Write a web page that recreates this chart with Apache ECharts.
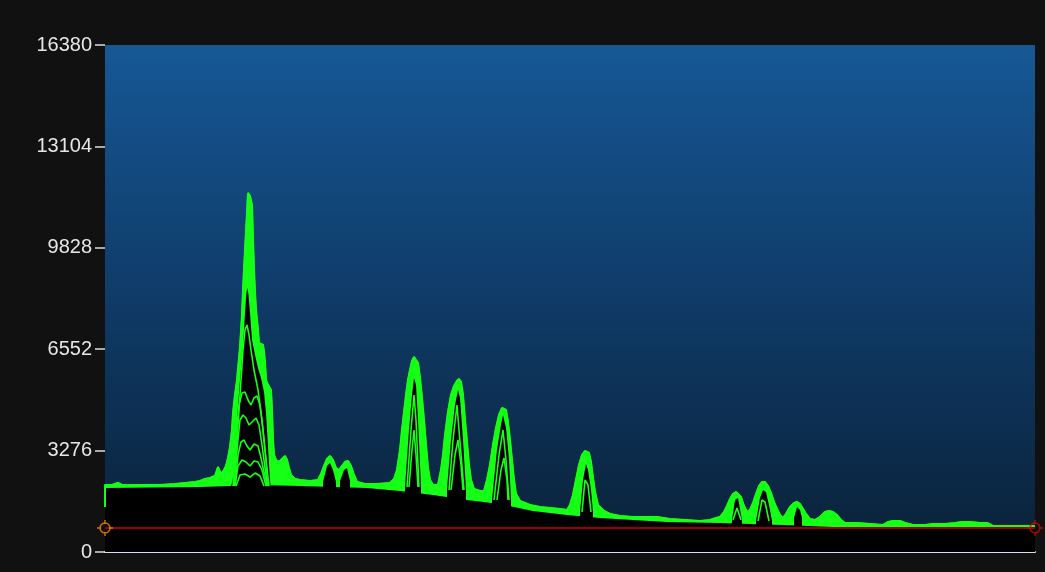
<!DOCTYPE html>
<html>
<head>
<meta charset="utf-8">
<script src="https://cdn.jsdelivr.net/npm/echarts/dist/echarts.min.js"></script>
<style>
html,body{margin:0;padding:0;background:#111111;}
#chart{width:1045px;height:572px;}
</style>
</head>
<body>
<div id="chart"></div>
<script>
// Y axis tick labels
const yTicks = [0, 3276, 6552, 9828, 13104, 16380];
// Red threshold line level
const thresholdLevel = 775;
const xRange = [0, 930];

// Outer envelope of the overlaid spectra [channel, counts]
const envelope = [
[0,1454],[0,2165],[7,2165],[13,2229],[17,2165],[35,2165],[55,2165],[70,2197],[80,2229],[90,2262],
[95,2294],[100,2359],[105,2391],[110,2456],[113,2746],[116,2520],[119,2649],[121,2779],[123,3037],[125,3393],
[127,3942],[128,4491],[130,5073],[132,5557],[135,6624],[137,7657],[138,8465],[140,9758],[142,10953],[143,11599],
[144,11599],[145,11502],[147,11212],[148,10081],[149,9111],[150,8401],[151,7819],[153,7173],[154,6753],[156,6785],
[158,6688],[159,6462],[160,6139],[161,5557],[163,5396],[165,5363],[166,5234],[167,4588],[168,3619],[169,3134],
[171,2973],[174,2908],[178,3037],[180,3102],[182,2973],[184,2714],[186,2488],[190,2359],[195,2326],[205,2294],
[213,2326],[216,2520],[219,2779],[222,3005],[225,3102],[228,2973],[231,2714],[234,2649],[237,2779],[240,2908],
[243,2940],[246,2779],[249,2488],[252,2262],[260,2197],[272,2197],[285,2229],[289,2359],[292,2649],[295,3296],
[297,3942],[299,4523],[301,5073],[303,5557],[305,5880],[307,6171],[309,6300],[311,6300],[313,6107],[315,5622],
[317,4976],[319,4265],[321,3457],[323,2714],[325,2326],[328,2165],[333,2165],[336,2649],[338,3134],[340,3780],
[343,4523],[346,5073],[349,5363],[352,5525],[354,5590],[356,5493],[358,5073],[360,4265],[362,3554],[364,2811],
[366,2326],[369,2036],[375,1971],[379,1971],[382,2326],[385,2811],[388,3457],[391,4006],[394,4426],[397,4653],
[399,4717],[401,4588],[403,4200],[405,3619],[407,2973],[409,2326],[411,1874],[415,1648],[425,1519],[435,1454],
[445,1422],[455,1389],[462,1357],[465,1519],[468,1842],[471,2326],[474,2811],[477,3134],[480,3263],[482,3296],
[484,3199],[486,2908],[488,2391],[490,1939],[493,1519],[499,1325],[505,1228],[515,1163],[528,1131],[540,1131],
[552,1131],[565,1066],[580,1034],[595,1002],[605,1034],[611,1099],[615,1131],[619,1292],[622,1486],[625,1712],
[628,1874],[631,1939],[633,1939],[636,1777],[639,1486],[642,1292],[645,1357],[648,1583],[651,1874],[654,2132],
[657,2262],[660,2262],[663,2132],[666,1906],[669,1616],[672,1389],[675,1195],[678,1099],[681,1228],[685,1454],
[689,1583],[692,1616],[695,1551],[698,1389],[701,1228],[705,1066],[710,1034],[715,1131],[720,1292],[724,1325],
[728,1292],[732,1195],[736,1034],[740,937],[752,937],[765,905],[778,872],[783,969],[788,1002],[795,1002],
[800,937],[808,872],[820,872],[828,905],[840,905],[850,937],[857,969],[865,969],[875,937],[882,937],
[888,840],[905,840],[930,840]
];

// Lowest spectrum (top of the black fill)
const floorCurve = [
[0,2068],[95,2100],[155,2165],[195,2132],[262,2068],[295,1971],[328,1842],[362,1680],[395,1551],
[428,1325],[462,1195],[495,1099],[528,1034],[562,969],[615,937],[678,872],[728,808],[930,808]
];

// Dark interiors of the peaks
const hollowMain = [[126,2100],[129,2552],[131,3393],[132.5,4491],[135,5557],[138,6624],[140,7722],[141.5,8401],[142.5,8530],[143.5,8304],[145,7722],[147,6850],[150,6365],[153,5945],[156,5622],[159,5170],[161,4491],[163,3393],[164.5,2552],[165.5,2100]];
const hollowP225 = [[218,2262],[222,2779],[225,2876],[228,2649],[231,2262]];
const hollowP242 = [[235,2294],[239,2649],[242,2714],[245,2294]];
const hollowP310 = [[300,2100],[304,3942],[307,5073],[309,5622],[311,5396],[313,4265],[316,2100]];
const hollowP354 = [[342,2036],[346,3619],[350,4750],[353,5234],[355,4976],[358,3619],[361,2003]];
const hollowP399 = [[387,1680],[392,3296],[396,4103],[398,4426],[401,4006],[404,2973],[406,1680]];
const hollowP482 = [[475,1292],[478,2326],[481,2843],[483,2649],[486,2003],[488,1292]];
const hollowP632 = [[627,1034],[630,1680],[633,1745],[637,1034]];
const hollowP659 = [[651,1002],[655,1745],[658,2003],[661,1939],[665,1357],[667,1002]];
const hollowP692 = [[689,1099],[692,1454],[695,1357],[697,1099]];

// Inner spectra (contour lines inside the peaks)
const innerMain0 = [[129,2132],[132,3619],[135,5073],[138,6527],[140,7173],[142,7334],[144,7011],[146,6527],[149,5880],[153,5234],[157,4265],[161,2973],[163,2132]];
const innerMain1 = [[128,2132],[131,3619],[134,4750],[137,5137],[140,5170],[143,4911],[146,4750],[149,4976],[152,5040],[155,4750],[158,3942],[161,2973],[164,2132]];
const innerMain2 = [[129,2132],[132,3296],[135,4265],[138,4426],[141,4330],[144,4103],[147,4200],[151,4330],[154,4103],[157,3457],[160,2714],[163,2132]];
const innerMain3 = [[130,2132],[133,3134],[136,3554],[139,3619],[142,3425],[145,3296],[149,3489],[153,3425],[156,3037],[159,2585],[162,2132]];
const innerMain4 = [[130,2132],[133,2779],[137,2973],[141,2908],[145,2779],[149,2940],[153,2908],[157,2649],[161,2132]];
const innerMain5 = [[131,2132],[135,2488],[140,2520],[145,2423],[150,2552],[155,2456],[159,2132]];
const innerP310a = [[302,2100],[306,3942],[309,5073],[311,4265],[314,2100]];
const innerP310b = [[304,2100],[307,3296],[309,3942],[311,3134],[313,2100]];
const innerP354a = [[344,2003],[348,3619],[352,4750],[354,3942],[359,2003]];
const innerP354b = [[346,2003],[350,3134],[353,3619],[356,2811],[358,2003]];
const innerP399a = [[389,1680],[394,3134],[398,3942],[401,2973],[404,1680]];
const innerP399b = [[392,1680],[396,2649],[399,3037],[402,2326],[403,1680]];
const innerP482 = [[477,1292],[480,2326],[483,2165],[486,1292]];
const innerP632 = [[628,1034],[632,1422],[636,1034]];
const innerP659 = [[653,1002],[657,1680],[660,1616],[664,1002]];

const GREEN = '#16ff16';
const hollows = [hollowMain,hollowP225,hollowP242,hollowP310,hollowP354,hollowP399,hollowP482,hollowP632,hollowP659,hollowP692];
const inners = [innerMain0,innerMain1,innerMain2,innerMain3,innerMain4,innerMain5,innerP310a,innerP310b,innerP354a,innerP354b,innerP399a,innerP399b,innerP482,innerP632,innerP659];

const series = [];
series.push({type:'line', data:envelope, symbol:'none', silent:true,
  lineStyle:{color:GREEN, width:1.5}, areaStyle:{color:GREEN, opacity:1}});
series.push({type:'line', data:floorCurve, symbol:'none', silent:true,
  lineStyle:{width:0, opacity:0}, areaStyle:{color:'#000000', opacity:1}});
hollows.forEach(h => series.push({type:'line', data:h, symbol:'none', silent:true,
  lineStyle:{width:0, opacity:0}, areaStyle:{color:'#000000', opacity:1}}));
inners.forEach(c => series.push({type:'line', data:c, symbol:'none', silent:true,
  lineStyle:{color:GREEN, width:1.6}}));
series.push({type:'line', data:envelope, symbol:'none', silent:true,
  lineStyle:{color:GREEN, width:2}});
series.push({type:'line', data:[[xRange[0],thresholdLevel],[xRange[1],thresholdLevel]], symbol:'none', silent:true,
  lineStyle:{color:'#d00000', width:1.5}, z:5});
const cross = 'path://M8,0L8,4M8,12L8,16M0,8L4,8M12,8L16,8M3,8A5,5,0,1,1,13,8A5,5,0,1,1,3,8Z';
series.push({type:'scatter', symbol:cross, symbolSize:16, silent:true, clip:false, z:6,
  data:[
    {value:[xRange[0],thresholdLevel], itemStyle:{color:'transparent', borderColor:'#ff8c00', borderWidth:1.5}},
    {value:[xRange[1],thresholdLevel], itemStyle:{color:'transparent', borderColor:'#e00000', borderWidth:1.5}}
  ]});

const chart = echarts.init(document.getElementById('chart'), null, {renderer:'canvas'});
chart.setOption({
  animation:false,
  backgroundColor:'#111111',
  grid:{left:105, right:10, top:45, bottom:20, show:true, borderWidth:0,
    backgroundColor:new echarts.graphic.LinearGradient(0,0,0,1,[
      {offset:0, color:'#165896'},{offset:0.5, color:'#0f3b67'},{offset:1, color:'#0a2138'}])},
  xAxis:{type:'value', min:xRange[0], max:xRange[1], axisLabel:{show:false}, axisTick:{show:false},
    splitLine:{show:false}, axisLine:{show:true, onZero:false, lineStyle:{color:'#d8e2ee', width:2}}},
  yAxis:{type:'value', min:yTicks[0], max:yTicks[yTicks.length-1], interval:yTicks[1]-yTicks[0],
    splitLine:{show:false}, axisLine:{show:false},
    axisTick:{show:true, length:10, lineStyle:{color:'#dddddd', width:1.5}},
    axisLabel:{color:'#e6e6e6', fontSize:20, fontFamily:'Liberation Sans, Arial, sans-serif', margin:13,
      formatter:(v)=>String(v)}},
  series:series
});
</script>
</body>
</html>
